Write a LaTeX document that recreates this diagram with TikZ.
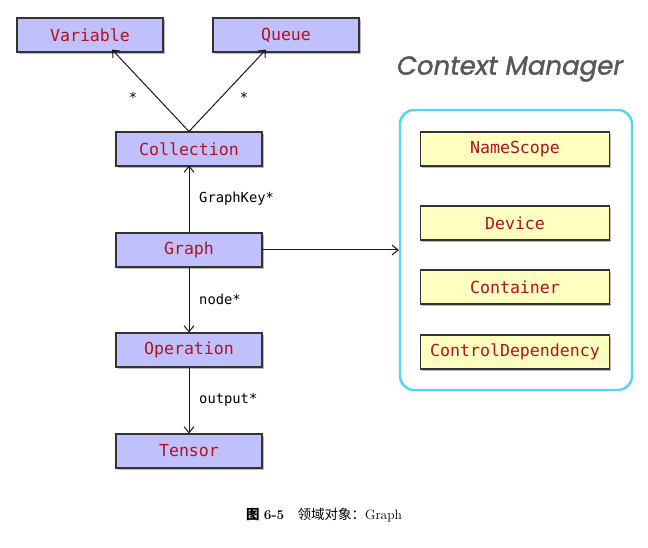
\documentclass[tikz,border=0pt]{standalone}
\usepackage{fontspec}
\setmonofont{DejaVu Sans Mono}
\newfontfamily\cjkfont{Noto Sans CJK SC}
\newfontfamily\titlefont[ItalicFeatures={FakeBold=1.4}]{Poppins}
\usetikzlibrary{arrows.meta,shadows}

\definecolor{classfill}{RGB}{192,192,252}
\definecolor{ctxfill}{RGB}{255,255,192}
\definecolor{classtext}{RGB}{178,18,32}
\definecolor{ctxborder}{RGB}{84,212,240}
\definecolor{titlegray}{RGB}{88,88,88}

\tikzset{
  boxbase/.style={draw=black!80, line width=1.1pt, minimum width=146pt,
    minimum height=34pt, inner sep=0pt, text=classtext,
    font=\ttfamily\fontsize{16.6}{19}\selectfont,
    drop shadow={shadow xshift=1.6pt, shadow yshift=-2pt, fill=black!45, opacity=0.6}},
  classbox/.style={boxbase, fill=classfill},
  ctxbox/.style={boxbase, fill=ctxfill, minimum width=189pt},
  link/.style={draw=black!90, line width=1pt, -{Straight Barb[length=6pt,width=10pt,line width=1pt]}},
  linklabel/.style={font=\ttfamily\fontsize{13.8}{16}\selectfont, text=black, inner sep=0pt}
}

\begin{document}
\begin{tikzpicture}[x=1pt,y=-1pt]
\useasboundingbox[fill=white] (0,0) rectangle (648,548);

% object classes
\node[classbox] (variable)   at (90,35)   {Variable};
\node[classbox] (queue)      at (286,35)  {Queue};
\node[classbox] (collection) at (189,149) {Collection};
\node[classbox] (graph)      at (189,250) {Graph};
\node[classbox] (operation)  at (189,350) {Operation};
\node[classbox] (tensor)     at (189,451) {Tensor};

% context managers
\node[draw=ctxborder, line width=2.4pt, rounded corners=14pt,
      minimum width=232pt, minimum height=280pt] (context) at (516,250) {};
\node[font=\titlefont\itshape\fontsize{26}{30}\selectfont, text=titlegray] (ctxtitle) at (510,69) {Context Manager};
\node[ctxbox] (namescope) at (515,149) {NameScope};
\node[ctxbox] (device)    at (515,223) {Device};
\node[ctxbox] (container) at (515,287) {Container};
\node[ctxbox] (ctrldep)   at (515,352) {ControlDependency};

% associations
\draw[link] (collection.north) -- ([xshift=22pt,yshift=3pt]variable.south);
\draw[link] (collection.north) -- ([xshift=-20pt,yshift=3pt]queue.south);
\node[linklabel] (starvar) at (133,97) {*};
\node[linklabel] (starqueue) at (244,97) {*};

\draw[link] (graph.north) -- ([yshift=1pt]collection.south);
\node[linklabel, anchor=west] (graphkey) at (199,199) {GraphKey*};

\draw[link] (graph.south) -- (operation.north);
\node[linklabel, anchor=west] (nodelbl) at (199,299) {node*};

\draw[link] (operation.south) -- (tensor.north);
\node[linklabel, anchor=west] (outlbl) at (199,400) {output*};

\draw[link] (graph.east) -- (context.west);

% caption
\node[font=\fontsize{13.5}{16}\selectfont] (caption) at (324,515)
  {{\cjkfont\bfseries 图}\ \textbf{6-5}\quad{\cjkfont 领域对象：}Graph};
\end{tikzpicture}
\end{document}
